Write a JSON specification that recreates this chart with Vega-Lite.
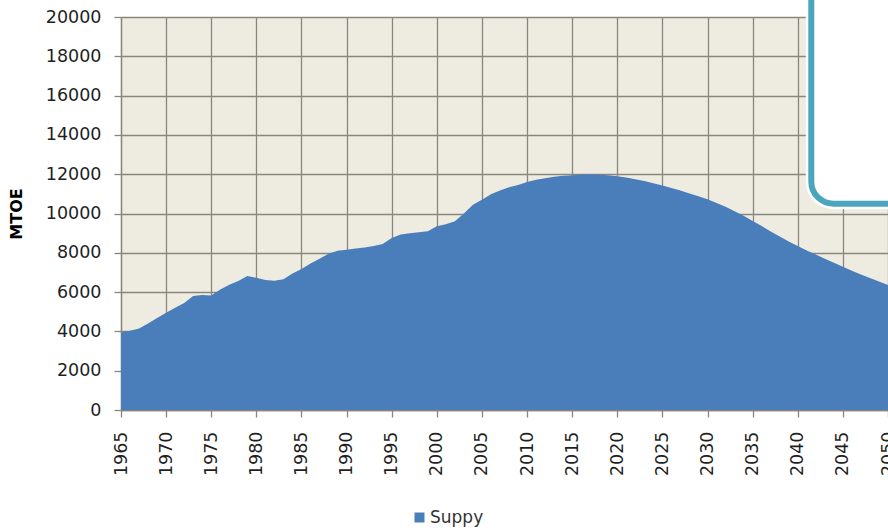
{
  "$schema": "https://vega.github.io/schema/vega-lite/v6.json",
  "width": 767,
  "height": 393,
  "autosize": {"type": "none"},
  "padding": {"left": 121, "top": 17, "right": 0, "bottom": 121},
  "background": "white",
  "config": {
    "view": {"fill": "#EEECE1", "stroke": null},
    "font": "DejaVu Sans",
    "axis": {
      "gridColor": "#8A867E",
      "gridWidth": 1.3,
      "gridOpacity": 1,
      "tickColor": "#8A867E",
      "tickWidth": 1.3,
      "tickSize": 7,
      "domainColor": "#8A867E",
      "domainWidth": 1.3,
      "labelFontSize": 17.5,
      "labelColor": "#1F1F1F",
      "labelFont": "DejaVu Sans",
      "labelOverlap": false
    }
  },
  "resolve": {"axis": {"x": "independent", "y": "independent"}},
  "layer": [
    {
      "data": {
        "values": [
          {"year": 1965, "value": 3950, "series": "Suppy"},
          {"year": 1966, "value": 4030, "series": "Suppy"},
          {"year": 1967, "value": 4150, "series": "Suppy"},
          {"year": 1968, "value": 4400, "series": "Suppy"},
          {"year": 1969, "value": 4680, "series": "Suppy"},
          {"year": 1970, "value": 4950, "series": "Suppy"},
          {"year": 1971, "value": 5200, "series": "Suppy"},
          {"year": 1972, "value": 5450, "series": "Suppy"},
          {"year": 1973, "value": 5800, "series": "Suppy"},
          {"year": 1974, "value": 5850, "series": "Suppy"},
          {"year": 1975, "value": 5830, "series": "Suppy"},
          {"year": 1976, "value": 6130, "series": "Suppy"},
          {"year": 1977, "value": 6380, "series": "Suppy"},
          {"year": 1978, "value": 6570, "series": "Suppy"},
          {"year": 1979, "value": 6820, "series": "Suppy"},
          {"year": 1980, "value": 6730, "series": "Suppy"},
          {"year": 1981, "value": 6620, "series": "Suppy"},
          {"year": 1982, "value": 6580, "series": "Suppy"},
          {"year": 1983, "value": 6650, "series": "Suppy"},
          {"year": 1984, "value": 6950, "series": "Suppy"},
          {"year": 1985, "value": 7180, "series": "Suppy"},
          {"year": 1986, "value": 7450, "series": "Suppy"},
          {"year": 1987, "value": 7700, "series": "Suppy"},
          {"year": 1988, "value": 7950, "series": "Suppy"},
          {"year": 1989, "value": 8100, "series": "Suppy"},
          {"year": 1990, "value": 8160, "series": "Suppy"},
          {"year": 1991, "value": 8220, "series": "Suppy"},
          {"year": 1992, "value": 8270, "series": "Suppy"},
          {"year": 1993, "value": 8350, "series": "Suppy"},
          {"year": 1994, "value": 8450, "series": "Suppy"},
          {"year": 1995, "value": 8750, "series": "Suppy"},
          {"year": 1996, "value": 8930, "series": "Suppy"},
          {"year": 1997, "value": 9000, "series": "Suppy"},
          {"year": 1998, "value": 9050, "series": "Suppy"},
          {"year": 1999, "value": 9100, "series": "Suppy"},
          {"year": 2000, "value": 9350, "series": "Suppy"},
          {"year": 2001, "value": 9450, "series": "Suppy"},
          {"year": 2002, "value": 9600, "series": "Suppy"},
          {"year": 2003, "value": 10000, "series": "Suppy"},
          {"year": 2004, "value": 10450, "series": "Suppy"},
          {"year": 2005, "value": 10700, "series": "Suppy"},
          {"year": 2006, "value": 10980, "series": "Suppy"},
          {"year": 2007, "value": 11170, "series": "Suppy"},
          {"year": 2008, "value": 11330, "series": "Suppy"},
          {"year": 2009, "value": 11450, "series": "Suppy"},
          {"year": 2010, "value": 11600, "series": "Suppy"},
          {"year": 2011, "value": 11720, "series": "Suppy"},
          {"year": 2012, "value": 11800, "series": "Suppy"},
          {"year": 2013, "value": 11870, "series": "Suppy"},
          {"year": 2014, "value": 11920, "series": "Suppy"},
          {"year": 2015, "value": 11950, "series": "Suppy"},
          {"year": 2016, "value": 11980, "series": "Suppy"},
          {"year": 2017, "value": 12000, "series": "Suppy"},
          {"year": 2018, "value": 11990, "series": "Suppy"},
          {"year": 2019, "value": 11950, "series": "Suppy"},
          {"year": 2020, "value": 11900, "series": "Suppy"},
          {"year": 2021, "value": 11830, "series": "Suppy"},
          {"year": 2022, "value": 11740, "series": "Suppy"},
          {"year": 2023, "value": 11650, "series": "Suppy"},
          {"year": 2024, "value": 11540, "series": "Suppy"},
          {"year": 2025, "value": 11430, "series": "Suppy"},
          {"year": 2026, "value": 11300, "series": "Suppy"},
          {"year": 2027, "value": 11170, "series": "Suppy"},
          {"year": 2028, "value": 11020, "series": "Suppy"},
          {"year": 2029, "value": 10880, "series": "Suppy"},
          {"year": 2030, "value": 10730, "series": "Suppy"},
          {"year": 2031, "value": 10540, "series": "Suppy"},
          {"year": 2032, "value": 10340, "series": "Suppy"},
          {"year": 2033, "value": 10120, "series": "Suppy"},
          {"year": 2034, "value": 9880, "series": "Suppy"},
          {"year": 2035, "value": 9620, "series": "Suppy"},
          {"year": 2036, "value": 9360, "series": "Suppy"},
          {"year": 2037, "value": 9090, "series": "Suppy"},
          {"year": 2038, "value": 8830, "series": "Suppy"},
          {"year": 2039, "value": 8580, "series": "Suppy"},
          {"year": 2040, "value": 8340, "series": "Suppy"},
          {"year": 2041, "value": 8120, "series": "Suppy"},
          {"year": 2042, "value": 7910, "series": "Suppy"},
          {"year": 2043, "value": 7700, "series": "Suppy"},
          {"year": 2044, "value": 7490, "series": "Suppy"},
          {"year": 2045, "value": 7290, "series": "Suppy"},
          {"year": 2046, "value": 7090, "series": "Suppy"},
          {"year": 2047, "value": 6900, "series": "Suppy"},
          {"year": 2048, "value": 6720, "series": "Suppy"},
          {"year": 2049, "value": 6540, "series": "Suppy"},
          {"year": 2050, "value": 6360, "series": "Suppy"}
        ]
      },
      "mark": {"type": "area", "interpolate": "linear"},
      "encoding": {
        "x": {
          "field": "year",
          "type": "quantitative",
          "scale": {"domain": [1965, 2050], "nice": false, "zero": false},
          "axis": {
            "title": null,
            "values": [1965, 1970, 1975, 1980, 1985, 1990, 1995, 2000, 2005, 2010, 2015, 2020, 2025, 2030, 2035, 2040, 2045, 2050],
            "format": "d",
            "labelAngle": -90,
            "labelPadding": 14,
            "labelFlush": false,
            "labelOverlap": false
          }
        },
        "y": {
          "field": "value",
          "type": "quantitative",
          "scale": {"domain": [0, 20000], "nice": false},
          "axis": {
            "title": "MTOE",
            "titleFontSize": 16,
            "titleFontWeight": "bold",
            "titleColor": "#000000",
            "titlePadding": 21,
            "values": [0, 2000, 4000, 6000, 8000, 10000, 12000, 14000, 16000, 18000, 20000],
            "format": "d",
            "labelPadding": 13,
            "labelFlush": false,
            "labelOverlap": false
          }
        },
        "color": {
          "field": "series",
          "type": "nominal",
          "scale": {"range": ["#4A7EBB"]},
          "legend": {
            "title": null,
            "orient": "none",
            "legendX": 290,
            "legendY": 492,
            "direction": "horizontal",
            "symbolType": "square",
            "symbolSize": 100,
            "symbolStrokeWidth": 0,
            "labelOffset": 2,
            "labelFontSize": 17,
            "labelColor": "#333333",
            "labelFont": "DejaVu Sans"
          }
        }
      }
    },
    {
      "data": {"values": [{"bx": 2041.5, "bx2": 2062, "by": 10500, "by2": 24000}]},
      "mark": {"type": "rect", "fill": "white", "stroke": "#FFFFFF", "strokeWidth": 11, "cornerRadius": 22},
      "encoding": {
        "x": {"field": "bx", "type": "quantitative", "axis": null},
        "x2": {"field": "bx2"},
        "y": {"field": "by", "type": "quantitative", "axis": null},
        "y2": {"field": "by2"}
      }
    },
    {
      "data": {"values": [{"bx": 2041.5, "bx2": 2062, "by": 10500, "by2": 24000}]},
      "mark": {"type": "rect", "fill": "white", "stroke": "#4BA5BD", "strokeWidth": 6, "cornerRadius": 22},
      "encoding": {
        "x": {"field": "bx", "type": "quantitative", "axis": null},
        "x2": {"field": "bx2"},
        "y": {"field": "by", "type": "quantitative", "axis": null},
        "y2": {"field": "by2"}
      }
    }
  ]
}
